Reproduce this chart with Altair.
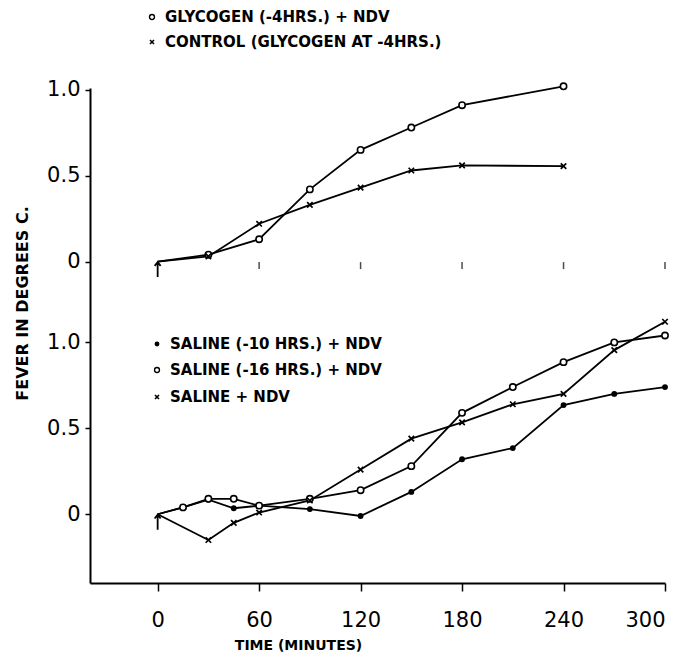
import altair as alt
import pandas as pd

# ---- data ----
OFFSET = 1.47  # vertical offset of the upper panel on the shared axis

t_top = [0, 30, 60, 90, 120, 150, 180, 240]
glycogen = [0, 0.04, 0.13, 0.42, 0.65, 0.78, 0.91, 1.02]
control = [0, 0.03, 0.22, 0.33, 0.43, 0.53, 0.56, 0.555]

t_s10 = [0, 15, 30, 45, 60, 90, 120, 150, 180, 210, 240, 270, 300]
saline10 = [0, 0.04, 0.085, 0.035, 0.05, 0.03, -0.01, 0.13, 0.32, 0.385, 0.635, 0.70, 0.74]
t_s16 = [0, 15, 30, 45, 60, 90, 120, 150, 180, 210, 240, 270, 300]
saline16 = [0, 0.04, 0.09, 0.09, 0.05, 0.09, 0.14, 0.28, 0.59, 0.74, 0.885, 1.0, 1.04]
t_sx = [0, 30, 45, 60, 90, 120, 150, 180, 210, 240, 270, 300]
saline_x = [0, -0.15, -0.05, 0.01, 0.08, 0.26, 0.44, 0.535, 0.64, 0.70, 0.955, 1.12]

x_ticks = [0, 60, 120, 180, 240, 300]
top_zero_ticks = [60, 120, 180, 240, 300]
y_labels = ["0", "0.5", "1.0"]
y_levels = [0, 0.5, 1.0]

top_legend = ["GLYCOGEN (-4HRS.) + NDV", "CONTROL (GLYCOGEN AT -4HRS.)"]
bottom_legend = ["SALINE (-10 HRS.) + NDV", "SALINE (-16 HRS.) + NDV", "SALINE + NDV"]

# ---- build tables ----
def series(ts, vs, off):
    return pd.DataFrame({"t": ts, "v": [v + off for v in vs]})

d_gly = series(t_top, glycogen, OFFSET)
d_ctl = series(t_top, control, OFFSET)
d_s10 = series(t_s10, saline10, 0)
d_s16 = series(t_s16, saline16, 0)
d_sx = series(t_sx, saline_x, 0)

y_values = y_levels + [v + OFFSET for v in y_levels]
label_expr = (
    "datum.value < 0.25 ? '0' : datum.value < 0.75 ? '0.5' : datum.value < 1.2 ? '1.0' : "
    "datum.value < 1.7 ? '0' : datum.value < 2.2 ? '0.5' : '1.0'"
)

FONT = "DejaVu Sans"
X_PATH = "M-1,-1L1,1M-1,1L1,-1"
ARROW_PATH = "M0,-1L0,1M-0.4,-0.5L0,-1L0.4,-0.5"

x_enc = alt.X(
    "t:Q",
    scale=alt.Scale(domain=[-40, 300], nice=False, zero=False),
    axis=alt.Axis(
        values=x_ticks, grid=False, domain=True, domainColor="black", domainWidth=2,
        tickColor="black", tickWidth=1.5, tickSize=8, labelFontSize=21, labelFont=FONT,
        labelColor="black", labelPadding=18, title="TIME (MINUTES)", titleFont=FONT,
        titleFontSize=14, titleFontWeight="bold", titleColor="black",
        titleX=208, titleY=62, titleBaseline="middle", titleAnchor="start", titleAlign="center",
    ),
)
y_enc = alt.Y(
    "v:Q",
    scale=alt.Scale(domain=[-0.40, 2.48], nice=False, zero=False),
    axis=alt.Axis(
        values=y_values, labelExpr=label_expr, grid=False, domain=True, domainColor="black",
        domainWidth=2, tickColor="black", tickWidth=1.5, tickSize=5, labelFontSize=21,
        labelFont=FONT, labelColor="black", labelPadding=5, title="FEVER IN DEGREES C.",
        titleFont=FONT, titleFontSize=16, titleFontWeight="bold", titleColor="black",
        titleX=-68, titleY=215, titleBaseline="middle", titleAnchor="start", titleAlign="center",
        titleAngle=270,
    ),
)

def line(df):
    return alt.Chart(df).mark_line(color="black", strokeWidth=1.8).encode(x=x_enc, y=y_enc)

def dots(df, kind):
    if kind == "open":
        m = alt.Chart(df).mark_point(shape="circle", filled=True, fill="white", stroke="black",
                                     strokeWidth=1.6, size=40, opacity=1)
    elif kind == "filled":
        m = alt.Chart(df).mark_point(shape="circle", filled=True, color="black", size=34, opacity=1)
    else:
        m = alt.Chart(df).mark_point(shape=X_PATH, filled=False, stroke="black",
                                     strokeWidth=1.7, size=30, opacity=1)
    # no marker at the injection point (t = 0): an arrow is drawn there instead
    return m.encode(x="t:Q", y="v:Q").transform_filter("datum.t > 0")

layers = []
for df in [d_gly, d_ctl, d_s10, d_s16, d_sx]:
    layers.append(line(df))
layers += [dots(d_s10, "filled"), dots(d_s16, "open"), dots(d_sx, "x"),
           dots(d_gly, "open"), dots(d_ctl, "x")]

# small ticks along the upper panel's zero line
d_zt = pd.DataFrame({"t": top_zero_ticks, "v": [OFFSET] * len(top_zero_ticks)})
layers.append(alt.Chart(d_zt).mark_tick(orient="vertical", color="black", size=7,
                                        thickness=1.5, yOffset=4).encode(x="t:Q", y="v:Q"))

# arrows marking the injection at time 0
d_arrow = pd.DataFrame({"t": [0, 0], "v": [0, OFFSET]})
layers.append(alt.Chart(d_arrow).mark_point(shape=ARROW_PATH, filled=False, stroke="black",
                                            strokeWidth=1.8, size=225, opacity=1, yOffset=8)
              .encode(x="t:Q", y="v:Q"))

# hand-drawn style legends
def legend_entry(label, kind, mx, ty):
    d = pd.DataFrame({"label": [label]})
    if kind == "open":
        mk = alt.Chart(d).mark_point(shape="circle", filled=True, fill="white", stroke="black",
                                     strokeWidth=1.4, size=24, opacity=1)
    elif kind == "filled":
        mk = alt.Chart(d).mark_point(shape="circle", filled=True, color="black", size=24, opacity=1)
    else:
        mk = alt.Chart(d).mark_point(shape=X_PATH, filled=False, stroke="black",
                                     strokeWidth=1.6, size=16, opacity=1)
    mk = mk.encode(x=alt.value(mx), y=alt.value(ty))
    tx = alt.Chart(d).mark_text(align="left", baseline="middle", font=FONT, fontSize=15,
                                fontWeight="bold", color="black").encode(
        x=alt.value(mx + 13), y=alt.value(ty), text="label:N")
    return [mk, tx]

layers += legend_entry(top_legend[0], "open", 62, -71)
layers += legend_entry(top_legend[1], "x", 62, -46)
layers += legend_entry(bottom_legend[0], "filled", 67, 256)
layers += legend_entry(bottom_legend[1], "open", 67, 282)
layers += legend_entry(bottom_legend[2], "x", 67, 309)

chart = alt.layer(*layers).properties(
    width=575, height=495,
    padding={"left": 82, "top": 80, "right": 18, "bottom": 72},
    autosize=alt.AutoSizeParams(type="none"),
).configure(background="white").configure_view(stroke=None)

chart.save("out.html", embed_options={"renderer": "svg", "actions": False})
